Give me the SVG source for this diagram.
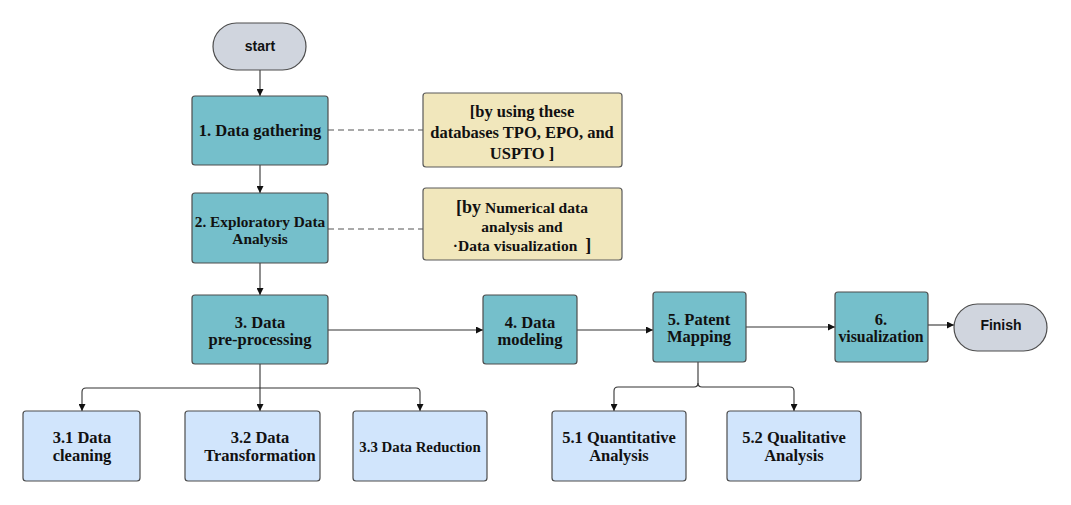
<svg xmlns="http://www.w3.org/2000/svg" width="1071" height="505" viewBox="0 0 1071 505">
<style>
.bg{fill:#ffffff}
.n{fill:#75bfcb;stroke:#4d4d4d;stroke-width:1.2}
.s{fill:#d1e5fc;stroke:#4d4d4d;stroke-width:1.2}
.note{fill:#f1e7bc;stroke:#5a5a5a;stroke-width:1.2}
.pill{fill:#d0d5de;stroke:#4d4d4d;stroke-width:1.2}
.t{font-family:"Liberation Serif","DejaVu Serif",serif;font-weight:bold;font-size:16.5px;fill:#111;text-anchor:middle}
.tn{font-family:"Liberation Serif","DejaVu Serif",serif;font-weight:bold;font-size:16.5px;fill:#111;text-anchor:middle}
.ts{font-family:"Liberation Sans",Arial,sans-serif;font-weight:bold;font-size:14px;fill:#111;text-anchor:middle}
.c{fill:none;stroke:#333;stroke-width:1.1}
.d{fill:none;stroke:#555;stroke-width:1.1;stroke-dasharray:6 4}
</style>
<defs>
<marker id="a" viewBox="0 0 10 10" refX="10" refY="5" markerWidth="7" markerHeight="7" orient="auto" markerUnits="userSpaceOnUse">
<path d="M0,0 L10,5 L0,10 z" fill="#111"/>
</marker>
</defs>
<rect class="bg" x="0" y="0" width="1071" height="505"/>
<g id="connectors">
<path class="c" d="M260,70 V96" marker-end="url(#a)"/>
<path class="c" d="M260,165 V193" marker-end="url(#a)"/>
<path class="c" d="M260,263 V295" marker-end="url(#a)"/>
<path class="d" d="M328,130 H423"/>
<path class="d" d="M328,229 H423"/>
<path class="c" d="M328,330 H483" marker-end="url(#a)"/>
<path class="c" d="M577,330 H653" marker-end="url(#a)"/>
<path class="c" d="M746,327 H835" marker-end="url(#a)"/>
<path class="c" d="M928,325 H954" marker-end="url(#a)"/>
<path class="c" d="M260,364 V411" marker-end="url(#a)"/>
<path class="c" d="M260,388 H86 Q82,388 82,392 V411" marker-end="url(#a)"/>
<path class="c" d="M260,388 H416 Q420,388 420,392 V411" marker-end="url(#a)"/>
<path class="c" d="M698,362 V383 Q698,387 694,387 H618 Q614,387 614,391 V411" marker-end="url(#a)"/>
<path class="c" d="M698,383 Q698,387 702,387 H790 Q794,387 794,391 V411" marker-end="url(#a)"/>
</g>
<g id="start"><rect class="pill" x="213" y="23" width="93" height="47" rx="23.5"/><text class="ts" x="260" y="51">start</text></g>
<g id="n1"><rect class="n" x="192" y="96" width="136" height="69" rx="3"/><text class="t" x="260" y="136">1. Data gathering</text></g>
<g id="note1"><rect class="note" x="423" y="93" width="199" height="74" rx="3"/>
<text class="tn" x="522" y="117">[by using these</text>
<text class="tn" x="522" y="138">databases TPO, EPO, and</text>
<text class="tn" x="522" y="159">USPTO ]</text></g>
<g id="n2"><rect class="n" x="192" y="193" width="136" height="70" rx="3"/>
<text class="t" x="260" y="227" style="font-size:15.3px">2. Exploratory Data</text>
<text class="t" x="260" y="244" style="font-size:15.3px">Analysis</text></g>
<g id="note2"><rect class="note" x="423" y="188" width="199" height="72" rx="3"/>
<text class="t" x="522" y="213" style="font-size:15.5px"><tspan style="font-size:18px">[by</tspan> Numerical data</text>
<text class="t" x="522" y="232" style="font-size:15.5px">analysis and</text>
<text class="t" x="522" y="251" style="font-size:15.5px">·Data visualization <tspan style="font-size:18px" dx="4">]</tspan></text></g>
<g id="n3"><rect class="n" x="192" y="295" width="136" height="69" rx="3"/>
<text class="t" x="260" y="328">3. Data</text>
<text class="t" x="260" y="345">pre-processing</text></g>
<g id="n4"><rect class="n" x="483" y="295" width="94" height="69" rx="3"/>
<text class="t" x="530" y="328">4. Data</text>
<text class="t" x="530" y="345">modeling</text></g>
<g id="n5"><rect class="n" x="653" y="292" width="93" height="70" rx="3"/>
<text class="t" x="699" y="325">5. Patent</text>
<text class="t" x="699" y="342">Mapping</text></g>
<g id="n6"><rect class="n" x="835" y="292" width="93" height="70" rx="3"/>
<text class="t" x="881" y="325">6.</text>
<text class="t" x="881" y="342" style="font-size:15.8px">visualization</text></g>
<g id="finish"><rect class="pill" x="954" y="304" width="93" height="47" rx="23.5"/><text class="ts" x="1001" y="330">Finish</text></g>
<g id="n31"><rect class="s" x="23" y="411" width="117" height="70" rx="3"/>
<text class="t" x="82" y="443">3.1 Data</text>
<text class="t" x="82" y="461">cleaning</text></g>
<g id="n32"><rect class="s" x="185" y="411" width="135" height="70" rx="3"/>
<text class="t" x="260" y="443">3.2 Data</text>
<text class="t" x="260" y="461">Transformation</text></g>
<g id="n33"><rect class="s" x="353" y="411" width="134" height="70" rx="3"/>
<text class="t" x="420" y="452" style="font-size:14.8px">3.3 Data Reduction</text></g>
<g id="n51"><rect class="s" x="552" y="411" width="134" height="70" rx="3"/>
<text class="t" x="619" y="443">5.1 Quantitative</text>
<text class="t" x="619" y="461">Analysis</text></g>
<g id="n52"><rect class="s" x="727" y="411" width="134" height="70" rx="3"/>
<text class="t" x="794" y="443">5.2 Qualitative</text>
<text class="t" x="794" y="461">Analysis</text></g>
</svg>
